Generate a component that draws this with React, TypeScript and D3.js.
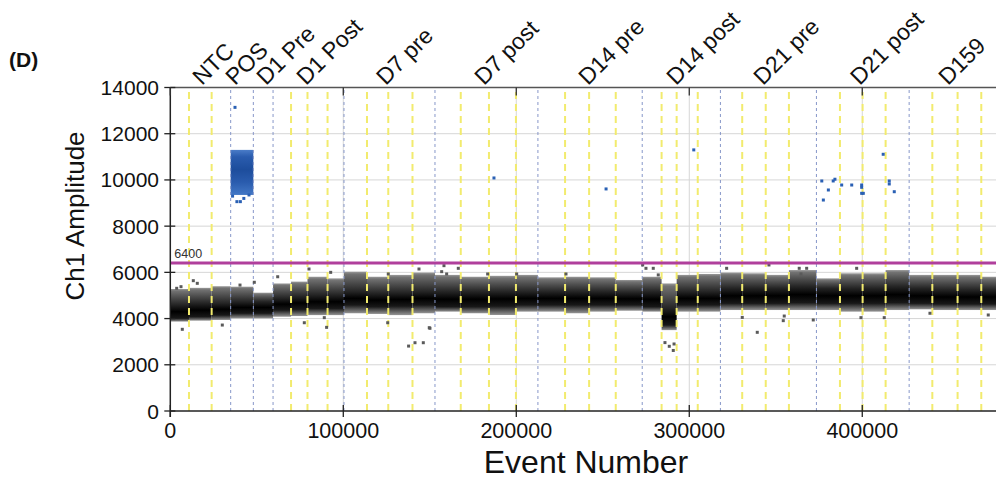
import React from 'react';
import * as d3 from 'd3';

// ---- axes ----
const xDomain = [0, 478000];
const yDomain = [0, 14000];
const xTicks = [0, 100000, 200000, 300000, 400000];
const yTicks = [0, 2000, 4000, 6000, 8000, 10000, 12000, 14000];
const threshold = 6400;

// ---- group labels (event number where each rotated label starts) ----
const groupLabels = ['NTC', 'POS', 'D1 Pre', 'D1 Post', 'D7 pre', 'D7 post', 'D14 pre', 'D14 post', 'D21 pre', 'D21 post', 'D159'];
const groupLabelEvents = [18300, 37400, 55300, 78400, 124600, 181300, 241400, 292300, 342600, 398600, 449500];

// ---- boundaries ----
const groupBoundaries = [34900, 48000, 59400, 100400, 153000, 212500, 272800, 318000, 373500, 427100];
const wellEdges = [0, 10800, 23900, 34900, 48000, 59400, 69800, 79300, 90900, 100400,
  113700, 126000, 140000, 153000, 167900, 184200, 199800, 212500, 228200, 242100,
  257500, 272800, 284000, 292700, 304900, 318000, 330600, 344200, 357600, 373500,
  387100, 400200, 413500, 427100, 440500, 455100, 468800, 478000];

// ---- negative droplet band per well (amplitude) ----
const bandTop = [5280, 5330, 5400, 5380, 5120, 5520, 5600, 5810, 5740, 6030,
  5810, 5890, 5990, 5890, 5810, 5850, 5890, 5785, 5810, 5785,
  5670, 5810, 5520, 5890, 5930, 5990, 5960, 5890, 6100, 5740,
  5960, 5960, 6100, 5890, 5890, 5890, 5810];
const bandCoreTop = [4590, 4660, 4660, 4730, 4730, 4880, 4950, 5020, 5020, 5160,
  5090, 5120, 5160, 5160, 5160, 5160, 5160, 5160, 5160, 5160,
  5120, 5160, 4440, 5160, 5160, 5310, 5310, 5310, 5380, 5310,
  5310, 5310, 5380, 5310, 5240, 5240, 5240];
const bandCoreBottom = [4010, 4080, 4150, 4230, 4230, 4370, 4400, 4440, 4440, 4590,
  4510, 4540, 4590, 4510, 4510, 4540, 4590, 4590, 4590, 4590,
  4590, 4510, 3720, 4590, 4590, 4660, 4660, 4660, 4690, 4660,
  4660, 4660, 4690, 4660, 4630, 4630, 4630];
const bandBottom = [3870, 3910, 3940, 4010, 4010, 4080, 4110, 4150, 4150, 4230,
  4200, 4150, 4230, 4300, 4230, 4155, 4300, 4300, 4230, 4300,
  4340, 4300, 3500, 4300, 4300, 4370, 4370, 4370, 4370, 4370,
  4300, 4300, 4370, 4400, 4370, 4370, 4370];

// ---- positive cluster in POS well ----
const posCluster = { x0: 34900, x1: 48000, top: 11300, coreTop: 11000, coreBottom: 9900, bottom: 9350 };

// ---- individual droplets ----
const grayEvents = [3700, 6180, 13300, 15600, 6940, 30060, 40290, 48560, 62080, 77460,
  80170, 89020, 90360, 92710, 126000, 125670, 143750, 150100, 156870, 137750,
  141450, 146250, 149700, 158200, 159750, 166480, 183450, 200220, 228730, 273060,
  274960, 279180, 282070, 285950, 288440, 290750, 291200, 321600, 346060, 363560,
  364560, 367860, 396760, 330630, 354900, 354330, 339300, 371670, 399240, 412700,
  439130, 472830];
const grayValues = [5310, 5380, 5640, 5525, 3535, 3720, 5450, 5570, 5810, 3820,
  6145, 4040, 3620, 6000, 5930, 3820, 6145, 3580, 6030, 2810,
  2955, 2955, 3605, 6290, 5930, 6175, 5930, 5930, 5930, 6320,
  6175, 6175, 5890, 2960, 2800, 2620, 2900, 6175, 6320, 6175,
  5930, 6175, 6175, 4050, 4110, 3910, 3405, 3940, 4040, 4040,
  4230, 4155];

const blueEvents = [37400, 36000, 38500, 40500, 42500, 45500, 187100, 251900, 302600, 376600,
  377500, 380400, 383200, 384200, 388100, 393900, 399650, 399650, 399650, 400600,
  412100, 415600, 415600, 418500];
const blueValues = [13140, 9300, 9060, 9060, 9200, 9350, 10085, 9610, 11300, 9955,
  9130, 9565, 9955, 10030, 9780, 9780, 9780, 9680, 9420, 9420,
  11110, 9955, 9825, 9490];

const FONT = "Arial, 'Liberation Sans', Helvetica, sans-serif";

export default function App() {
  const x = d3.scaleLinear().domain(xDomain).range([170.3, 997.2]);
  const y = d3.scaleLinear().domain(yDomain).range([411, 87.5]);
  const [px0] = x.range();
  const [py0, py1] = y.range();

  const wells = d3.range(wellEdges.length - 1).map(i => ({
    i, x0: wellEdges[i], x1: wellEdges[i + 1],
    top: bandTop[i], coreTop: bandCoreTop[i], coreBottom: bandCoreBottom[i], bottom: bandBottom[i],
  }));
  const wellBoundaryLines = wellEdges.slice(1, -1).filter(e => !groupBoundaries.includes(e));

  const stopsFor = (w: any) => {
    const f = (v: number) => (w.top - v) / (w.top - w.bottom);
    const a = f(w.coreTop), b = f(w.coreBottom);
    return [
      [0, '#9a9a9a'], [0.06, '#727272'], [a * 0.5, '#505050'], [a, '#242424'],
      [(a + b) / 2, '#000000'], [b, '#181818'], [b + (1 - b) * 0.45, '#505050'], [1, '#959595'],
    ] as [number, string][];
  };
  const posStops = (() => {
    const c = posCluster;
    const f = (v: number) => (c.top - v) / (c.top - c.bottom);
    return [[0, '#4a7cc8'], [f(c.coreTop), '#2a5cae'], [f((c.coreTop + c.coreBottom) / 2), '#1d4d9c'], [f(c.coreBottom), '#2a5cae'], [1, '#4378c6']] as [number, string][];
  })();

  const pt = 3;

  return (
    <svg width={996} height={481} style={{ position: 'absolute', left: 0, top: 0, background: '#fff' }} fontFamily={FONT}>
      <rect x={0} y={0} width={996} height={481} fill="#fff" />
      <defs>
        {wells.map(w => (
          <linearGradient key={w.i} id={`g${w.i}`} x1="0" y1="0" x2="0" y2="1">
            {stopsFor(w).map(([o, c], k) => <stop key={k} offset={o} stopColor={c} />)}
          </linearGradient>
        ))}
        <linearGradient id="gpos" x1="0" y1="0" x2="0" y2="1">
          {posStops.map(([o, c], k) => <stop key={k} offset={o} stopColor={c} />)}
        </linearGradient>
      </defs>

      {/* grid */}
      {yTicks.filter(t => t > 0 && t < 14000).map(t => (
        <line key={t} x1={px0} x2={996} y1={y(t)} y2={y(t)} stroke="#d6d6d6" strokeWidth={1} />
      ))}
      {xTicks.filter(t => t > 0).map(t => (
        <line key={t} x1={x(t)} x2={x(t)} y1={py0} y2={py1} stroke="#d6d6d6" strokeWidth={1} />
      ))}

      {/* negative droplet bands */}
      {wells.map(w => (
        <rect key={w.i} x={x(w.x0)} width={x(w.x1) - x(w.x0)} y={y(w.top)} height={y(w.bottom) - y(w.top)} fill={`url(#g${w.i})`} />
      ))}

      {/* positive cluster */}
      <rect x={x(posCluster.x0)} width={x(posCluster.x1) - x(posCluster.x0)} y={y(posCluster.top)} height={y(posCluster.bottom) - y(posCluster.top)} fill="url(#gpos)" />

      {/* well boundaries */}
      {wellBoundaryLines.map(e => (
        <line key={e} x1={x(e)} x2={x(e)} y1={py0} y2={py1} stroke="#f2eb6e" strokeWidth={2} strokeDasharray="7,5" />
      ))}
      {groupBoundaries.map(e => (
        <line key={e} x1={x(e)} x2={x(e)} y1={py0} y2={py1} stroke="#8797c9" strokeWidth={1} strokeDasharray="3,3" />
      ))}

      {/* droplets */}
      {grayEvents.map((e, k) => (
        <rect key={k} x={x(e) - pt / 2} y={y(grayValues[k]) - pt / 2} width={pt} height={pt} fill="#5a5a5a" />
      ))}
      {blueEvents.map((e, k) => (
        <rect key={k} x={x(e) - pt / 2} y={y(blueValues[k]) - pt / 2} width={pt} height={pt} fill="#2a60b4" />
      ))}

      {/* threshold */}
      <line x1={px0} x2={996} y1={y(threshold)} y2={y(threshold)} stroke="#b03f9c" strokeWidth={3} />
      <text x={px0 + 4} y={y(threshold) - 5} fontSize={12.5} fill="#333">{threshold}</text>

      {/* frame and axes */}
      <line x1={px0} x2={996} y1={py1} y2={py1} stroke="#555" strokeWidth={1.5} />
      <line x1={px0} x2={996} y1={py0} y2={py0} stroke="#222" strokeWidth={1.5} />
      <line x1={px0} x2={px0} y1={py0 + 6} y2={py1} stroke="#222" strokeWidth={1.5} />
      {yTicks.map(t => (
        <g key={t}>
          <line x1={px0 - 6} x2={px0 + 5} y1={y(t)} y2={y(t)} stroke="#222" strokeWidth={1.3} />
          <text x={159} y={y(t)} dy="0.36em" textAnchor="end" fontSize={21} fill="#111">{t}</text>
        </g>
      ))}
      {xTicks.map(t => (
        <g key={t}>
          <line x1={x(t)} x2={x(t)} y1={py0 - 6} y2={py0 + 6} stroke="#222" strokeWidth={1.3} />
          <line x1={x(t)} x2={x(t)} y1={py1} y2={py1 + 8} stroke="#333" strokeWidth={1.3} />
          <text x={x(t)} y={438} textAnchor="middle" fontSize={21.5} fill="#111">{t}</text>
        </g>
      ))}

      {/* titles */}
      <text x={586} y={473} textAnchor="middle" fontSize={32} fill="#111">Event Number</text>
      <text transform={`translate(84,216) rotate(-90)`} textAnchor="middle" fontSize={26} fill="#111">Ch1 Amplitude</text>
      <text x={9} y={67} fontSize={21} fontWeight="bold" fill="#111">(D)</text>

      {/* group labels */}
      {groupLabels.map((g, k) => (
        <text key={g} transform={`translate(${x(groupLabelEvents[k])},86) rotate(-45)`} fontSize={23} fill="#111">{g}</text>
      ))}
    </svg>
  );
}
